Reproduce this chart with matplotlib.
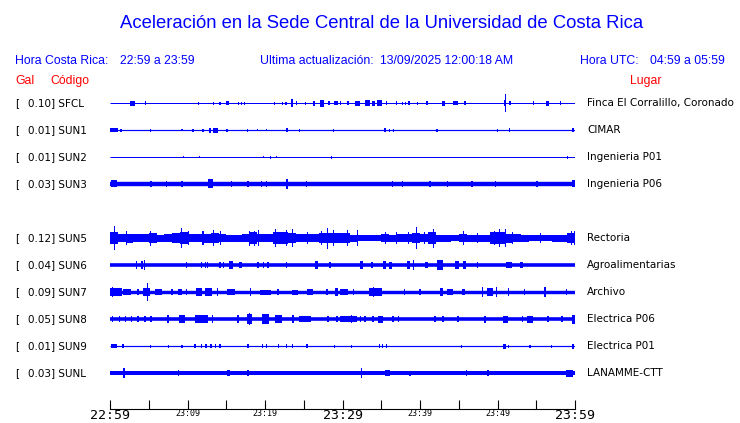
import matplotlib
matplotlib.use("Agg")
import matplotlib.pyplot as plt

# station table (SUN4 has no data in this window, its row stays empty)
stations = ["SFCL", "SUN1", "SUN2", "SUN3", "SUN5", "SUN6", "SUN7", "SUN8", "SUN9", "SUNL"]
gal = ["0.10", "0.01", "0.01", "0.03", "0.12", "0.04", "0.09", "0.05", "0.01", "0.03"]
places = ["Finca El Corralillo, Coronado", "CIMAR", "Ingenieria P01", "Ingenieria P06",
          "Rectoria", "Agroalimentarias", "Archivo", "Electrica P06", "Electrica P01",
          "LANAMME-CTT"]

# background half-amplitude of each trace (px)
base_amp = [0.5, 0.6, 0.5, 2.2, 3.0, 1.8, 1.7, 1.8, 0.6, 2.0]

# bursts: (minute after 22:59, half amplitude px, duration in minutes)
sfcl_bursts = [(2.9, 2.5, 0.6), (4.6, 2, 0.15), (11.4, 1.5, 0.15), (13.4, 1.5, 0.15),
               (14.2, 1.5, 0.15), (15.2, 2, 0.4), (16.6, 1.5, 0.15), (17.0, 1.5, 0.15),
               (17.4, 1.5, 0.15), (21.2, 1.5, 0.15), (22.3, 1.5, 0.15), (22.7, 1.5, 0.15),
               (23.5, 4, 0.3), (24.1, 2, 0.15), (25.2, 1.5, 0.15), (26.35, 2.5, 0.3),
               (27.3, 3.5, 0.5), (28.25, 2, 0.3), (29.15, 2, 0.5), (29.7, 2, 0.15),
               (30.7, 2, 0.15), (31.95, 2.5, 0.7), (33.2, 3, 0.6), (34.0, 2.5, 0.5),
               (34.8, 3, 0.6), (35.7, 2, 0.15), (37.0, 2, 0.15), (37.7, 1.5, 0.15),
               (38.1, 1.5, 0.15), (38.6, 2, 0.2), (39.7, 1.5, 0.15), (40.9, 2, 0.2),
               (43.0, 2.5, 0.4), (44.6, 2, 0.7), (45.8, 2, 0.15), (51.0, 3, 0.3),
               (51.0, 9, 0.13), (51.6, 2, 0.2), (54.6, 2, 0.15), (56.4, 2.5, 0.4),
               (58.1, 2, 0.15)]
sun1_bursts = [(0.5, 2, 1.0), (1.4, 1.5, 0.2), (5.2, 1.5, 0.15), (9.3, 1, 0.15),
               (10.7, 1.5, 0.15), (12.0, 1.5, 0.15), (12.9, 2.5, 0.3), (13.6, 2.5, 0.6),
               (15.1, 1.5, 0.15), (17.7, 1.5, 0.15), (19.0, 1, 0.15), (20.2, 1, 0.15),
               (22.8, 2, 0.3), (24.5, 1.5, 0.15), (28.8, 1.5, 0.15), (35.5, 2, 0.2),
               (36.1, 1.5, 0.15), (36.6, 1.5, 0.15), (42.2, 1.5, 0.15), (50.0, 1.5, 0.15),
               (51.6, 2, 0.15), (59.7, 2, 0.3)]
sun2_bursts = [(9.5, 1, 0.15), (11.5, 1, 0.15), (19.8, 1, 0.15), (20.7, 1.5, 0.15),
               (21.5, 1, 0.15), (28.6, 1.5, 0.15), (59.0, 1.5, 0.15)]
sun3_bursts = [(0.5, 3.5, 0.8), (5.3, 3, 0.15), (7.3, 3, 0.15), (9.3, 3, 0.3),
               (13.0, 4.5, 0.6), (15.7, 3, 0.15), (17.8, 3, 0.15), (19.6, 3, 0.15),
               (20.2, 3, 0.15), (22.8, 5, 0.3), (25.4, 3, 0.15), (36.5, 3, 0.15),
               (37.7, 3, 0.15), (41.3, 3, 0.15), (43.5, 3, 0.15), (46.7, 3, 0.15),
               (49.7, 3, 0.15), (55.1, 3, 0.15), (59.8, 3.5, 0.4)]
sun5_bursts = [(0.56, 12, 0.13), (2.15, 7, 0.13), (5.2, 7.5, 0.13), (9.25, 10, 0.13),
               (10.1, 7, 0.13), (12.0, 7, 0.13), (13.3, 8, 0.13), (14.3, 7, 0.13),
               (18.0, 7.5, 0.13), (18.6, 7.5, 0.13), (19.2, 8, 0.13), (21.4, 9, 0.13),
               (22.8, 8, 0.13), (23.6, 9, 0.13), (25.5, 6, 0.13), (27.3, 7, 0.13),
               (28.1, 10.5, 0.13), (28.8, 8, 0.13), (30.7, 8, 0.13), (31.9, 8, 0.13),
               (35.6, 6, 0.13), (37.0, 6, 0.13), (38.5, 6, 0.13), (39.6, 11, 0.13),
               (40.6, 6, 0.13), (41.7, 9.5, 0.13), (45.6, 7, 0.13), (47.4, 5, 0.13),
               (49.6, 7, 0.13), (50.2, 9, 0.13), (51.0, 9, 0.13), (51.9, 6, 0.13),
               (55.5, 5, 0.13), (59.6, 7, 0.13), (59.9, 7, 0.13)]
sun6_bursts = [(3.4, 4, 0.2), (4.1, 4, 0.2), (4.5, 5, 0.15), (9.9, 3, 0.2), (11.8, 3, 0.15),
               (12.3, 3, 0.15), (12.6, 3, 0.15), (14.2, 3, 0.2), (14.6, 3, 0.15),
               (15.6, 4, 0.6), (16.8, 3, 0.4), (19.1, 3, 0.2), (19.8, 3, 0.2), (20.4, 3, 0.2),
               (22.8, 3, 0.2), (26.6, 4, 0.4), (28.4, 3, 0.3), (32.4, 4, 0.4), (33.8, 3, 0.2),
               (35.4, 4, 0.4), (36.2, 3.5, 0.5), (38.5, 4, 0.4), (39.2, 5, 0.15),
               (40.8, 3, 0.4), (42.6, 5, 0.8), (44.8, 4, 0.5), (45.7, 4, 0.4), (47.4, 3, 0.2),
               (51.5, 3, 0.7), (53.1, 3, 0.4)]
sun7_bursts = [(0.8, 4, 1.6), (0.3, 5, 0.15), (2.2, 3, 1.0), (3.6, 3, 0.2), (4.7, 4, 0.9),
               (4.8, 9, 0.13), (6.2, 3, 0.9), (8.0, 3, 0.2), (9.0, 3, 0.5), (9.9, 3, 0.2),
               (11.5, 4, 0.8), (12.7, 4, 0.8), (13.9, 4, 0.2), (15.6, 3, 1.0), (18.1, 4, 0.2),
               (20.1, 2.5, 1.4), (21.7, 3, 0.2), (23.9, 2.5, 0.8), (25.8, 3, 0.8),
               (28.0, 3, 0.2), (29.2, 4, 0.4), (30.2, 3, 1.0), (31.4, 3, 0.2), (34.3, 4, 1.7),
               (34.0, 5, 0.2), (38.0, 3, 0.2), (40.0, 3, 0.2), (42.8, 4, 0.4), (43.9, 3, 0.8),
               (45.6, 3, 0.4), (48.1, 5, 0.15), (49.0, 4, 0.8), (49.9, 5, 0.15),
               (51.4, 4, 0.2), (53.5, 3, 0.2), (56.1, 5, 0.2), (58.9, 3, 0.2)]
sun8_bursts = [(0.3, 3, 0.2), (1.2, 3, 0.2), (2.0, 3, 0.2), (2.8, 3, 0.2), (3.6, 3, 0.2),
               (4.5, 3, 0.2), (5.3, 3, 0.2), (7.5, 4, 0.2), (9.3, 4, 0.7), (11.8, 4, 1.6),
               (13.2, 4, 0.2), (16.5, 4, 0.2), (18.0, 5, 0.6), (18.0, 6, 0.15), (20.1, 5, 0.9),
               (21.7, 4, 0.9), (23.6, 4, 0.2), (25.2, 3, 1.5), (28.1, 3, 0.2), (29.3, 3, 0.2),
               (30.8, 3, 2.2), (31.2, 4, 0.15), (32.3, 3, 0.2), (32.9, 3, 0.2), (33.9, 3, 0.2),
               (34.9, 3.5, 0.6), (36.5, 3, 0.2), (37.2, 3, 0.2), (41.9, 3, 0.2), (43.0, 3, 0.2),
               (44.9, 3, 0.2), (48.4, 3.5, 0.3), (51.0, 3.5, 0.7), (53.2, 3, 0.2),
               (54.2, 3.5, 0.7), (56.5, 3, 0.2), (58.3, 3, 0.2), (59.8, 4.5, 0.4)]
sun9_bursts = [(0.5, 2, 0.7), (1.7, 2, 0.2), (5.2, 1.5, 0.15), (7.5, 1.5, 0.15),
               (9.3, 1.5, 0.15), (11.0, 2, 0.2), (11.8, 2, 0.2), (12.4, 2, 0.2), (13.0, 2, 0.2),
               (13.6, 2, 0.2), (14.2, 2, 0.2), (17.8, 2, 0.3), (19.7, 2, 0.2), (20.2, 2, 0.2),
               (21.7, 2, 0.15), (22.8, 2, 0.15), (23.6, 2, 0.15), (25.4, 2, 0.2),
               (29.0, 1.5, 0.15), (31.2, 1.5, 0.15), (34.8, 2, 0.15), (35.2, 2, 0.15),
               (35.7, 2, 0.15), (45.4, 1.5, 0.15), (50.9, 2.5, 0.5), (51.4, 1.5, 0.15),
               (54.2, 1.5, 0.15), (57.0, 1.5, 0.15), (59.7, 2.5, 0.3)]
sunl_bursts = [(1.8, 5, 0.2), (8.8, 3, 0.15), (15.3, 3, 0.4), (17.8, 3, 0.15), (32.5, 5, 0.15),
               (35.8, 3, 0.6), (38.7, 2.5, 0.2), (46.0, 3, 0.2), (48.8, 3, 0.2), (59.3, 3.5, 0.8)]

bursts = [sfcl_bursts, sun1_bursts, sun2_bursts, sun3_bursts, sun5_bursts,
          sun6_bursts, sun7_bursts, sun8_bursts, sun9_bursts, sunl_bursts]

# Rectoria (SUN5) is noisy all hour: envelope per minute (half amplitude px)
sun5_env = [6, 4, 4.5, 4, 4, 5, 3.5, 4, 5, 6, 4, 4, 4.5, 5, 4, 3.5, 3.5, 4, 6, 4,
            4, 6, 6, 5, 4, 4, 4, 5, 5, 5, 5, 3.5, 3, 3, 3, 4, 3.5, 4, 4, 5,
            4, 6, 3.5, 3.5, 3, 4, 3.5, 3.5, 3.5, 6, 6, 4.5, 4, 3.5, 3, 3, 3, 3.5, 3.5, 5]

tick_minutes = [0, 10, 20, 30, 40, 50, 60]
tick_labels = ["22:59", "23:09", "23:19", "23:29", "23:39", "23:49", "23:59"]

BLUE = "#0000ff"
W, H = 740, 423
ROW_SLOT = [0, 1, 2, 3, 5, 6, 7, 8, 9, 10]   # slot 4 is SUN4, left empty
ROW0, ROW_STEP = 103, 27


def fx(x):
    return x / W


def fy(y):
    return 1 - y / H


fig = plt.figure(figsize=(W / 100, H / 100), dpi=100)
# y of this axes is in pixel rows, so amplitudes read in px map directly
ax = fig.add_axes([fx(110), fy(408.5), 465 / W, (408.5 - 85) / H])
ax.set_xlim(0, 60)
ax.set_ylim(408.5, 85)
for side in ["top", "left", "right"]:
    ax.spines[side].set_visible(False)
ax.spines["bottom"].set_linewidth(0.8)
ax.set_yticks([])
ax.set_xticks(range(0, 61, 5))
ax.set_xticklabels([tick_labels[tick_minutes.index(m)] if m in tick_minutes else ""
                    for m in range(0, 61, 5)])
ax.tick_params(axis="x", direction="in", length=6.5, width=0.8, pad=0.5)
for lbl in ax.get_xticklabels():
    lbl.set_family("DejaVu Sans Mono")
    lbl.set_fontsize(9.5 if lbl.get_text() in ("22:59", "23:29", "23:59") else 6)

px_pt = 72 / fig.dpi
for i, name in enumerate(stations):
    yc = ROW0 + ROW_SLOT[i] * ROW_STEP
    ax.hlines(yc, 0, 60, color=BLUE, lw=2 * base_amp[i] * px_pt)
    if name == "SUN5":
        ax.bar(range(60), [2 * a for a in sun5_env], width=1, align="edge",
               bottom=[yc - a for a in sun5_env], color=BLUE, linewidth=0)
    for t, a, d in bursts[i]:
        ax.bar(t, 2 * a, width=d, bottom=yc - a, color=BLUE, linewidth=0)

    fig.text(fx(15), fy(yc), "[", fontsize=7.5, va="center")
    fig.text(fx(27.7), fy(yc), gal[i] + "] " + name, fontsize=7.5, va="center")
    fig.text(fx(587), fy(yc), places[i], fontsize=7.5, va="center")

head = dict(family="Liberation Sans", color=BLUE, va="center")
fig.text(fx(382), fy(23), "Aceleración en la Sede Central de la Universidad de Costa Rica",
         fontsize=13.3, ha="center", **head)
fig.text(fx(15), fy(60.5), "Hora Costa Rica:", fontsize=8.8, **head)
fig.text(fx(120), fy(60.5), "22:59 a 23:59", fontsize=8.8, **head)
fig.text(fx(260), fy(60.5), "Ultima actualización:", fontsize=8.8, **head)
fig.text(fx(380), fy(60.5), "13/09/2025 12:00:18 AM", fontsize=8.8, **head)
fig.text(fx(580), fy(60.5), "Hora UTC:", fontsize=8.8, **head)
fig.text(fx(650), fy(60.5), "04:59 a 05:59", fontsize=8.8, **head)

red = dict(family="Liberation Sans", color="#ff0000", va="center", fontsize=8.8)
fig.text(fx(15), fy(81), "Gal", **red)
fig.text(fx(50), fy(81), "Código", **red)
fig.text(fx(630), fy(81), "Lugar", **red)

fig.savefig("out.png", dpi=100)
